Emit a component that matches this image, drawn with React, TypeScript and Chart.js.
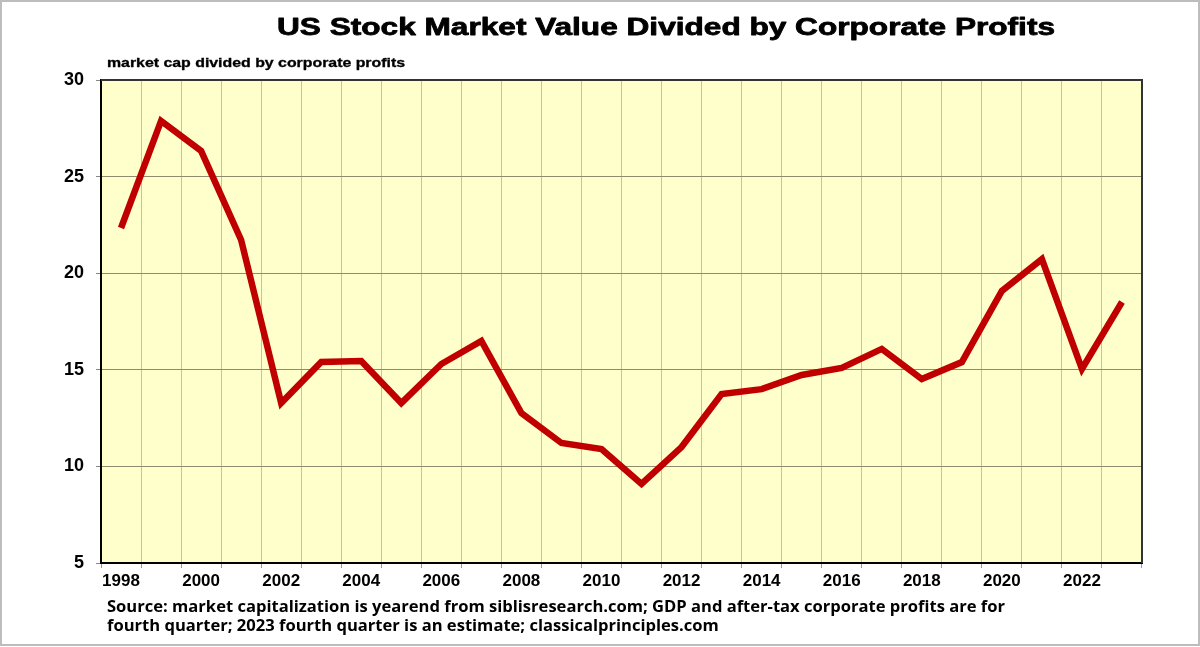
import React, { useEffect, useRef } from "react";
import { Chart, registerables } from "chart.js";

Chart.register(...registerables);

const years: string[] = [
  "1998", "1999", "2000", "2001", "2002", "2003", "2004", "2005", "2006", "2007",
  "2008", "2009", "2010", "2011", "2012", "2013", "2014", "2015", "2016", "2017",
  "2018", "2019", "2020", "2021", "2022", "2023",
];

const ratio: number[] = [
  22.34, 27.88, 26.33, 21.72, 13.28, 15.4, 15.45, 13.28, 15.3, 16.49,
  12.76, 11.21, 10.9, 9.09, 11.0, 13.75, 14.0, 14.73, 15.1, 16.08,
  14.52, 15.4, 19.08, 20.73, 15.04, 18.51,
];

const yTicks: number[] = [5, 10, 15, 20, 25, 30];

const titleText = "US Stock Market Value Divided by Corporate Profits";
const subtitleText = "market cap divided by corporate profits";
const sourceLines: string[] = [
  "Source: market capitalization is yearend from siblisresearch.com; GDP and after-tax corporate profits are for",
  "fourth quarter; 2023 fourth quarter is an estimate; classicalprinciples.com",
];

function drawFitted(
  ctx: CanvasRenderingContext2D,
  text: string,
  font: string,
  x: number,
  y: number,
  targetWidth: number,
  align: "left" | "center",
  heavy = 0
) {
  ctx.save();
  ctx.font = font;
  const w = ctx.measureText(text).width;
  const sx = targetWidth / w;
  ctx.translate(x, y);
  ctx.scale(sx, 1);
  ctx.textAlign = align;
  ctx.textBaseline = "alphabetic";
  ctx.fillStyle = "#000";
  ctx.fillText(text, 0, 0);
  if (heavy > 0) {
    ctx.strokeStyle = "#000";
    ctx.lineWidth = heavy;
    ctx.lineJoin = "round";
    ctx.strokeText(text, 0, 0);
  }
  ctx.restore();
}

const SOURCE_FONT = "bold 16px 'Open Sans', Lato, sans-serif";

const decorPlugin = {
  id: "decor",
  beforeDraw(chart: any) {
    const { ctx, chartArea, width, height } = chart;
    ctx.save();
    ctx.fillStyle = "#ffffff";
    ctx.fillRect(0, 0, width, height);
    ctx.fillStyle = "#ffffcc";
    ctx.fillRect(chartArea.left, chartArea.top, chartArea.right - chartArea.left, chartArea.bottom - chartArea.top);
    ctx.restore();
  },
  afterDraw(chart: any) {
    const { ctx, chartArea, width, height } = chart;
    ctx.save();
    ctx.strokeStyle = "#333";
    ctx.lineWidth = 2;
    ctx.beginPath();
    ctx.moveTo(chartArea.left, chartArea.top);
    ctx.lineTo(chartArea.right, chartArea.top);
    ctx.lineTo(chartArea.right, chartArea.bottom);
    ctx.stroke();
    ctx.strokeStyle = "#bdbdbd";
    ctx.lineWidth = 2;
    ctx.strokeRect(1, 1, width - 2, height - 3);
    ctx.restore();

    drawFitted(ctx, titleText, "bold 24px 'Liberation Sans', Arial, sans-serif", 666, 35, 778, "center", 0.8);
    drawFitted(ctx, subtitleText, "bold 12px 'Liberation Sans', Arial, sans-serif", 107, 67, 298, "left", 0.3);
    ctx.save();
    ctx.font = SOURCE_FONT;
    const w0 = ctx.measureText(sourceLines[0]).width;
    const w1 = ctx.measureText(sourceLines[1]).width;
    ctx.restore();
    drawFitted(ctx, sourceLines[0], SOURCE_FONT, 107, 612, 898, "left");
    drawFitted(ctx, sourceLines[1], SOURCE_FONT, 107, 631, (w1 * 898) / w0, "left");
  },
};

export default function App() {
  const ref = useRef<HTMLCanvasElement | null>(null);

  useEffect(() => {
    document.body.style.margin = "0";
    const canvas = ref.current;
    if (!canvas) return;
    const chart = new Chart(canvas, {
      type: "line",
      data: {
        labels: years,
        datasets: [
          {
            label: "market cap / corporate profits",
            data: ratio,
            borderColor: "#c00000",
            backgroundColor: "#c00000",
            borderWidth: 6.5,
            pointRadius: 0,
            tension: 0,
            borderJoinStyle: "miter",
            borderCapStyle: "butt",
          },
        ],
      },
      options: {
        responsive: false,
        animation: false,
        devicePixelRatio: 1,
        layout: { padding: { top: 80, right: 58, left: 0, bottom: 0 } },
        plugins: {
          legend: { display: false },
          title: { display: false },
          tooltip: { enabled: false },
        },
        scales: {
          x: {
            type: "category",
            offset: true,
            grid: {
              offset: true,
              color: "#c9c39a",
              lineWidth: 1,
              tickLength: 5,
              tickColor: "#999",
            },
            border: { color: "#000", width: 2 },
            ticks: {
              autoSkip: false,
              maxRotation: 0,
              padding: 3,
              color: "#000",
              font: { family: "'Liberation Sans', Arial, sans-serif", size: 17, weight: "bold" },
              callback: (_v: any, i: number) => (i % 2 === 0 ? years[i] : ""),
            },
            afterFit: (s: any) => {
              s.height = 84;
            },
          },
          y: {
            min: yTicks[0],
            max: yTicks[yTicks.length - 1],
            afterBuildTicks: (s: any) => {
              s.ticks = yTicks.map((v) => ({ value: v }));
            },
            grid: {
              color: "#8e8b70",
              lineWidth: 1,
              tickLength: 5,
              tickColor: "#888",
            },
            border: { color: "#000", width: 2 },
            ticks: {
              padding: 12,
              color: "#000",
              font: { family: "'Liberation Sans', Arial, sans-serif", size: 18, weight: "bold" },
            },
            afterFit: (s: any) => {
              s.width = 101;
            },
          },
        },
      },
      plugins: [decorPlugin],
    } as any);
    return () => chart.destroy();
  }, []);

  return (
    <div style={{ width: 1200, height: 647, position: "relative" }}>
      <canvas ref={ref} width={1200} height={647} style={{ display: "block" }} />
    </div>
  );
}
